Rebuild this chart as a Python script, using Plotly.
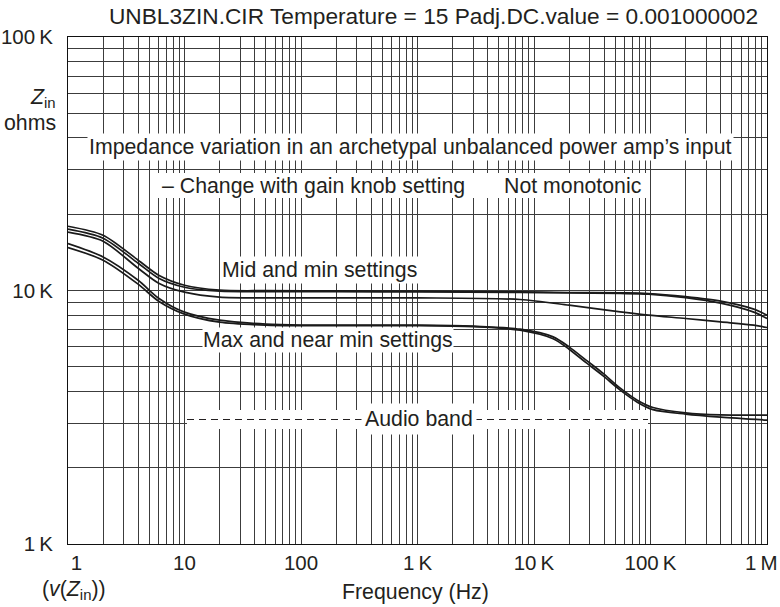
import plotly.graph_objects as go

# ---------------- data ----------------
# upper pair ("Mid and min settings")
freq_a1 = [1, 2, 4, 6, 10, 20, 50, 200, 1000, 7600, 20000, 55000, 96000, 200000, 400000, 770000, 1000000]
z_a1 = [17930, 16520, 13170, 11490, 10490, 10030, 9980, 9964, 9937, 9874, 9820, 9785, 9731, 9453, 9074, 8441, 7993]
freq_a2 = [1, 2, 4, 6, 10, 20, 50, 200, 1000, 7600, 20000, 55000, 96000, 200000, 400000, 770000, 1000000]
z_a2 = [17450, 16080, 12810, 11180, 10300, 9937, 9892, 9892, 9874, 9829, 9776, 9731, 9670, 9367, 8913, 8215, 7754]
# middle curve
freq_b = [1, 2, 4, 6, 10, 20, 100, 1000, 7600, 20000, 55000, 96000, 200000, 400000, 770000, 1000000]
z_b = [16980, 15640, 12240, 10690, 9847, 9410, 9350, 9350, 9215, 8752, 8237, 7993, 7754, 7518, 7297, 7146]
# lower pair ("Max and near min settings")
freq_c = [1, 2, 4, 6, 10, 20, 50, 100, 1000, 3000, 7600, 14600, 20000, 28000, 39000, 55000, 77000,
          105000, 200000, 400000, 1000000]
z_c1 = [15320, 13570, 10980, 9325, 8215, 7635, 7364, 7297, 7297, 7231, 7036, 6562, 5992, 5311, 4720, 4119,
        3693, 3456, 3292, 3230, 3224]
z_c2 = [14770, 13170, 10590, 9074, 8066, 7499, 7297, 7264, 7264, 7198, 6973, 6455, 5868, 5191, 4614, 4045,
        3627, 3388, 3253, 3165, 3080]

series = [(freq_a1, z_a1), (freq_a2, z_a2), (freq_b, z_b), (freq_c, z_c1), (freq_c, z_c2)]

# grid / tick values
x_tickvals = [m * 10 ** k for k in range(6) for m in range(1, 10)] + [1000000]
x_ticklabels_major = {1: "\u00a0\u00a0\u00a01", 10: "10", 100: "100", 1000: "1\u2009K", 10000: "10\u2009K",
                      100000: "100\u2009K", 1000000: "1\u2009M\u00a0\u00a0"}
y_tickvals = [m * 10 ** k for k in range(3, 5) for m in range(1, 10)] + [100000]
y_ticklabels_major = {1000: "1\u2009K", 10000: "10\u2009K", 100000: "100\u2009K"}

title_text = "UNBL3ZIN.CIR Temperature = 15 Padj.DC.value = 0.001000002"

# ---------------- layout helpers ----------------
W, H = 780, 607
# plot area in window pixels: x 68..767, y 37..544
L, T = 68, 37
R = W - 767
B = H - 544
PW, PH = W - L - R, H - T - B


def px(x):  # window pixel -> paper
    return (x - L) / PW


def py(y):
    return (H - B - y) / PH


FONT = "Liberation Sans, Arial, Helvetica, sans-serif"
INK = "#231f20"
TXT = 21.3

fig = go.Figure()
for f, z in series:
    fig.add_trace(go.Scatter(x=f, y=z, mode="lines",
                             line=dict(color="#1a1a1a", width=1.7, shape="spline", smoothing=0.8),
                             showlegend=False, hoverinfo="skip"))

axis_common = dict(type="log", showgrid=True, gridcolor="#3c3c3c", gridwidth=1, automargin=False,
                   zeroline=False, showline=True, linecolor="#111", linewidth=1, mirror=True,
                   ticks="", tickfont=dict(family=FONT, size=20.5, color=INK))

fig.update_xaxes(range=[0, 6], tickmode="array", tickvals=x_tickvals,
                 ticktext=[x_ticklabels_major.get(v, "") for v in x_tickvals],
                 ticklabelstandoff=0, ticklabeloverflow="allow", **axis_common)
fig.update_yaxes(range=[3, 5], tickmode="array", tickvals=y_tickvals,
                 ticktext=[y_ticklabels_major.get(v, "") for v in y_tickvals],
                 ticklabelstandoff=10, ticklabeloverflow="allow", **axis_common)

ann = []


def add_text(text, x, y, xanchor="center", bg=None, size=TXT, pad=1):
    d = dict(text=text, x=px(x), y=py(y), xref="paper", yref="paper", xanchor=xanchor,
             yanchor="middle", showarrow=False, font=dict(family=FONT, size=size, color=INK),
             borderpad=pad)
    if bg:
        d["bgcolor"] = bg
    ann.append(d)


add_text("Impedance variation in an archetypal unbalanced power amp\u2019s input", 410, 147, bg="white")
add_text("\u2013 Change with gain knob setting", 160, 186, xanchor="left")
add_text("Not monotonic", 502, 186, xanchor="left")
add_text("Mid and min settings", 319, 270, bg="white")
add_text("Max and near min settings", 328, 340, bg="white", pad=0)
add_text("Audio band", 419, 419, bg="white", pad=3)
add_text("<i>Z</i><sub>in</sub>", 58, 98, xanchor="right")
add_text("ohms", 58, 123, xanchor="right")
add_text("(<i>v</i>(<i>Z</i><sub>in</sub>))", 74, 590)
add_text("Frequency (Hz)", 415, 592)

shapes = [
    # white band behind the gain-knob note
    dict(type="rect", xref="paper", yref="paper", x0=px(155), x1=px(650), y0=py(173), y1=py(198),
         fillcolor="white", line=dict(width=0), layer="above"),
    # white band and dashed marker for the audio band
    dict(type="rect", xref="paper", yref="paper", x0=px(187), x1=px(648), y0=py(410), y1=py(429),
         fillcolor="white", line=dict(width=0), layer="above"),
    dict(type="line", xref="paper", yref="paper", x0=px(187), x1=px(648), y0=py(419.5), y1=py(419.5),
         line=dict(color=INK, width=1, dash="7px,5px"), layer="above"),
]

fig.update_layout(
    width=W, height=H, margin=dict(l=L, r=R, t=T, b=B, autoexpand=False),
    paper_bgcolor="white", plot_bgcolor="white",
    title=dict(text=title_text, x=433.5 / W, y=1 - 16 / H, xanchor="center", yanchor="middle",
               font=dict(family=FONT, size=22.7, color=INK)),
    annotations=ann, shapes=shapes, showlegend=False,
)

# the default page body has an 8px margin; remove it so the figure fills the window exactly
fig.write_html("out.html", config={"displayModeBar": False},
               post_script="document.body.style.margin='0px';")
